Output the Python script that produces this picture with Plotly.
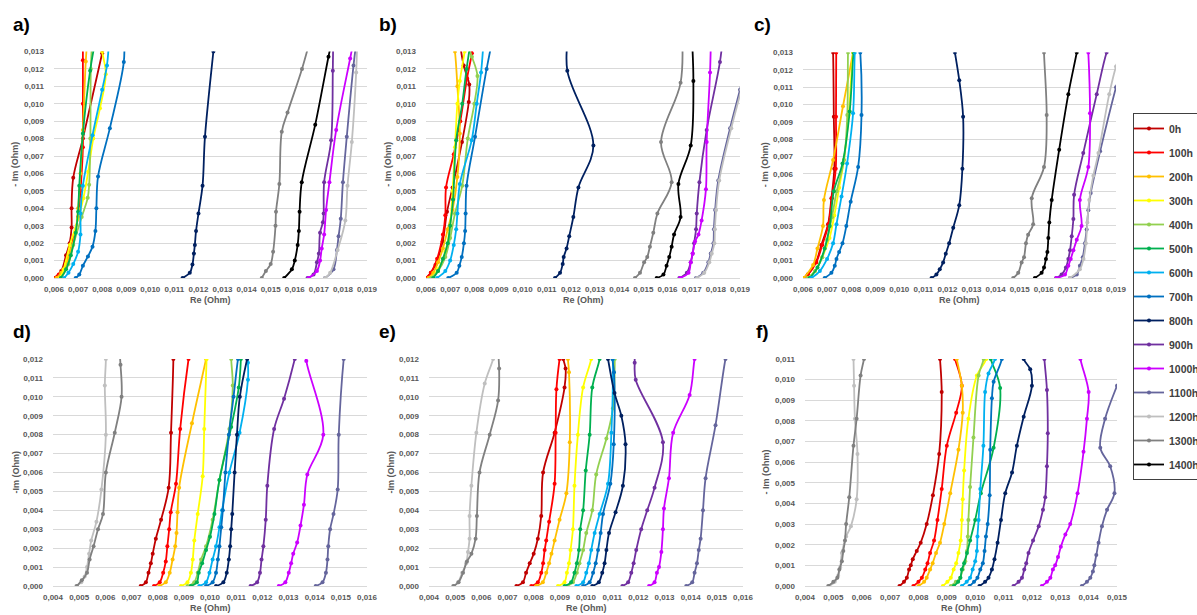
import plotly.graph_objects as go

# ---------------------------------------------------------------- series ---
LABELS = ["0h", "100h", "200h", "300h", "400h", "500h", "600h", "700h",
          "800h", "900h", "1000h", "1100h", "1200h", "1300h", "1400h"]
COLORS = ["#C00000", "#FF0000", "#FFC000", "#FFFF00", "#92D050", "#00B050",
          "#00B0F0", "#0070C0", "#002060", "#7030A0", "#CC00FF", "#65659C",
          "#BFBFBF", "#808080", "#000000"]

# panel a) -- Re (Ohm) and -Im (Ohm) for each ageing time
a_re = {
    "0h": [0.0060, 0.0063, 0.0065, 0.00665, 0.00673, 0.00673, 0.0068, 0.0072, 0.0080, 0.0082],
    "100h": [0.0060, 0.0062, 0.0064, 0.0066, 0.0068, 0.0070, 0.0071, 0.0072, 0.0072, 0.0072, 0.0072],
    "200h": [0.0061, 0.0063, 0.0065, 0.0067, 0.0069, 0.0070, 0.0071, 0.0072, 0.00732, 0.0074],
    "300h": [0.00625, 0.0064, 0.00666, 0.0070, 0.00722, 0.00742, 0.00763, 0.00791, 0.00815, 0.0080, 0.0079],
    "400h": [0.0063, 0.0066, 0.0068, 0.00715, 0.0074, 0.00746, 0.00751, 0.00753, 0.0076],
    "500h": [0.00628, 0.0065, 0.0067, 0.0069, 0.0070, 0.00705, 0.0072, 0.0075, 0.0077],
    "600h": [0.00642, 0.0066, 0.0068, 0.0070, 0.0071, 0.0071, 0.0072, 0.0076, 0.0080, 0.0082, 0.0083],
    "700h": [0.0069, 0.00705, 0.0072, 0.00741, 0.0076, 0.00772, 0.00776, 0.00783, 0.00832, 0.0089, 0.0089],
    "800h": [0.01134, 0.01164, 0.01175, 0.01181, 0.01185, 0.0119, 0.0120, 0.01217, 0.01227, 0.01262, 0.0127],
    "900h": [0.01653, 0.01678, 0.01692, 0.0170, 0.01705, 0.01717, 0.0172, 0.01722, 0.01751, 0.01758, 0.0176],
    "1000h": [0.01657, 0.01692, 0.01705, 0.01712, 0.01722, 0.0173, 0.01744, 0.01772, 0.0183, 0.0185],
    "1100h": [0.01726, 0.01761, 0.01775, 0.01782, 0.01791, 0.0180, 0.01816, 0.01844, 0.0186],
    "1200h": [0.01726, 0.01747, 0.01778, 0.0181, 0.01819, 0.01837, 0.01855, 0.0186],
    "1300h": [0.01463, 0.0148, 0.0150, 0.0151, 0.0152, 0.01522, 0.01536, 0.01546, 0.0157, 0.0163, 0.0167],
    "1400h": [0.01556, 0.01588, 0.0160, 0.01612, 0.01617, 0.0162, 0.01629, 0.01685, 0.0174, 0.0176],
}
a_im = {
    "0h": [0.0, 0.0004, 0.0013, 0.0020, 0.0029, 0.0040, 0.00576, 0.0080, 0.0129, 0.0140],
    "100h": [0.0, 0.0002, 0.0005, 0.0012, 0.0022, 0.0035, 0.0050, 0.0075, 0.0100, 0.0125, 0.0140],
    "200h": [0.0, 0.0003, 0.0008, 0.0016, 0.0027, 0.0040, 0.0060, 0.0085, 0.01243, 0.0140],
    "300h": [0.0, 0.0005, 0.0019, 0.0034, 0.00458, 0.0061, 0.0080, 0.00975, 0.0117, 0.0130, 0.0140],
    "400h": [0.0, 0.0008, 0.0019, 0.0035, 0.0046, 0.00535, 0.0080, 0.0120, 0.0140],
    "500h": [0.0, 0.0005, 0.0013, 0.0026, 0.0038, 0.0053, 0.0083, 0.0119, 0.0135],
    "600h": [0.0, 0.0003, 0.0008, 0.0015, 0.0025, 0.0037, 0.0053, 0.0082, 0.0108, 0.0122, 0.0140],
    "700h": [0.0, 0.0002, 0.0007, 0.00124, 0.0018, 0.0027, 0.0040, 0.00583, 0.0086, 0.0124, 0.0140],
    "800h": [0.0, 0.0003, 0.00077, 0.0014, 0.0019, 0.0027, 0.0037, 0.0053, 0.0081, 0.0130, 0.0140],
    "900h": [0.0, 0.0002, 0.0009, 0.0014, 0.0026, 0.0032, 0.0037, 0.0055, 0.0079, 0.0119, 0.0140],
    "1000h": [0.0, 0.0004, 0.0010, 0.0017, 0.0025, 0.0039, 0.0055, 0.0085, 0.0126, 0.0140],
    "1100h": [0.0, 0.0005, 0.0016, 0.0024, 0.0034, 0.0055, 0.0081, 0.0122, 0.0140],
    "1200h": [0.0, 0.0003, 0.0016, 0.0033, 0.0053, 0.0078, 0.0118, 0.0140],
    "1300h": [0.0, 0.0004, 0.0008, 0.0015, 0.0030, 0.0038, 0.0054, 0.0084, 0.0095, 0.0120, 0.0140],
    "1400h": [0.0, 0.0005, 0.0010, 0.0019, 0.0027, 0.0038, 0.0055, 0.0088, 0.0127, 0.0140],
}

# panel b)
b_re = {
    "0h": [0.0060, 0.0062, 0.00639, 0.00669, 0.00687, 0.0071, 0.00749, 0.00777, 0.00779, 0.00756, 0.0074],
    "100h": [0.0060, 0.0062, 0.00646, 0.0067, 0.0068, 0.00683, 0.00715, 0.00742, 0.0077, 0.0079, 0.0080],
    "200h": [0.0061, 0.0063, 0.0065, 0.0067, 0.0069, 0.0071, 0.0073, 0.0074, 0.0073, 0.0072, 0.0071],
    "300h": [0.0062, 0.0065, 0.0068, 0.0070, 0.0071, 0.0072, 0.0073, 0.0074, 0.0076, 0.0077],
    "400h": [0.0062, 0.0065, 0.0068, 0.0070, 0.0072, 0.0075, 0.00773, 0.0080, 0.00813, 0.0079, 0.0077],
    "500h": [0.0063, 0.0065, 0.0067, 0.0069, 0.0070, 0.00712, 0.00725, 0.0075, 0.00768, 0.0079],
    "600h": [0.00646, 0.0068, 0.0070, 0.00715, 0.00725, 0.0073, 0.0074, 0.00789, 0.0081, 0.00828, 0.0084],
    "700h": [0.00692, 0.00727, 0.00738, 0.00748, 0.00757, 0.00762, 0.00764, 0.00768, 0.00803, 0.00851, 0.0088],
    "800h": [0.01134, 0.01155, 0.01166, 0.0117, 0.01182, 0.01193, 0.0121, 0.01231, 0.01293, 0.01185, 0.0119],
    "900h": [0.01649, 0.0168, 0.01696, 0.01704, 0.0171, 0.01718, 0.01721, 0.01732, 0.01762, 0.01817, 0.0183],
    "1000h": [0.01652, 0.01687, 0.01696, 0.01704, 0.01714, 0.01728, 0.01741, 0.01759, 0.01762, 0.01776, 0.0178],
    "1100h": [0.01718, 0.01748, 0.01769, 0.01779, 0.0179, 0.01792, 0.01797, 0.0181, 0.01859, 0.0190, 0.0193],
    "1200h": [0.01722, 0.01752, 0.01773, 0.01783, 0.01794, 0.01796, 0.01801, 0.01814, 0.01864, 0.01905, 0.0193],
    "1300h": [0.01465, 0.01486, 0.01503, 0.01516, 0.01527, 0.01541, 0.01558, 0.01617, 0.01573, 0.01654, 0.0166],
    "1400h": [0.01555, 0.01583, 0.01596, 0.01607, 0.01617, 0.01627, 0.01654, 0.01645, 0.01696, 0.01707, 0.0170],
}
b_im = {
    "0h": [0.0, 0.0003, 0.00075, 0.0021, 0.0038, 0.0052, 0.0078, 0.0101, 0.0111, 0.0122, 0.0135],
    "100h": [0.0, 0.0003, 0.0011, 0.0025, 0.0036, 0.0052, 0.0071, 0.0090, 0.01147, 0.0129, 0.0140],
    "200h": [0.0, 0.0003, 0.0009, 0.0017, 0.0028, 0.0039, 0.0058, 0.0083, 0.0110, 0.0130, 0.0140],
    "300h": [0.0, 0.0005, 0.0015, 0.0030, 0.0050, 0.0075, 0.0100, 0.0113, 0.0130, 0.0140],
    "400h": [0.0, 0.0004, 0.0012, 0.0023, 0.0037, 0.0053, 0.0080, 0.0100, 0.0116, 0.0127, 0.0135],
    "500h": [0.0, 0.0004, 0.0011, 0.0020, 0.0030, 0.0045, 0.0079, 0.0100, 0.0120, 0.0140],
    "600h": [0.0, 0.0004, 0.0010, 0.0019, 0.0028, 0.0037, 0.0054, 0.0079, 0.0100, 0.0118, 0.0140],
    "700h": [0.0, 0.0003, 0.0007, 0.0012, 0.0020, 0.0027, 0.0037, 0.0053, 0.0081, 0.0120, 0.0140],
    "800h": [0.0, 0.0003, 0.0008, 0.0012, 0.0017, 0.0024, 0.0035, 0.0052, 0.0076, 0.0119, 0.0140],
    "900h": [0.0, 0.0003, 0.0009, 0.0014, 0.0020, 0.0028, 0.0037, 0.0055, 0.0085, 0.0124, 0.0140],
    "1000h": [0.0, 0.0003, 0.0009, 0.0014, 0.0021, 0.0025, 0.0033, 0.0051, 0.0078, 0.0118, 0.0140],
    "1100h": [0.0, 0.0003, 0.0009, 0.0014, 0.0020, 0.0028, 0.0039, 0.0056, 0.0086, 0.0108, 0.0125],
    "1200h": [0.0, 0.0003, 0.0009, 0.0014, 0.0020, 0.0028, 0.0039, 0.0056, 0.0086, 0.0108, 0.0123],
    "1300h": [0.0, 0.0003, 0.0009, 0.0012, 0.0018, 0.0026, 0.0037, 0.0055, 0.0078, 0.0112, 0.0140],
    "1400h": [0.0, 0.0002, 0.0007, 0.0012, 0.0018, 0.0025, 0.0035, 0.0054, 0.0076, 0.0113, 0.0140],
}

# panel c)
c_re = {
    "0h": [0.0060, 0.0062, 0.00655, 0.00676, 0.00704, 0.00718, 0.0073, 0.00728, 0.00725, 0.00722],
    "100h": [0.0060, 0.0062, 0.00655, 0.0068, 0.00706, 0.0072, 0.00736, 0.00737, 0.00738, 0.00738],
    "200h": [0.00603, 0.00642, 0.0066, 0.00683, 0.00687, 0.00725, 0.00766, 0.00808, 0.0082],
    "300h": [0.0062, 0.0065, 0.0068, 0.0071, 0.0073, 0.0075, 0.0077, 0.0079, 0.00808, 0.0082],
    "400h": [0.0062, 0.0065, 0.0068, 0.0070, 0.0072, 0.0074, 0.0077, 0.00784, 0.00787, 0.0079],
    "500h": [0.00628, 0.0066, 0.0069, 0.00711, 0.00728, 0.00764, 0.00794, 0.0081, 0.0082],
    "600h": [0.00635, 0.0067, 0.0070, 0.00725, 0.00739, 0.0076, 0.00783, 0.00808, 0.00815, 0.0082],
    "700h": [0.0069, 0.00718, 0.00732, 0.00739, 0.0075, 0.00764, 0.0078, 0.00798, 0.00829, 0.00843, 0.00838, 0.0083],
    "800h": [0.01134, 0.01154, 0.01168, 0.01182, 0.01193, 0.01207, 0.01224, 0.01249, 0.01262, 0.01265, 0.01249, 0.01231, 0.0122],
    "900h": [0.01651, 0.01674, 0.01692, 0.01702, 0.01709, 0.01716, 0.01723, 0.01726, 0.01764, 0.0182, 0.01861, 0.0189],
    "1000h": [0.01653, 0.01688, 0.01702, 0.01712, 0.01723, 0.01737, 0.01757, 0.0175, 0.01785, 0.01792, 0.01785, 0.0178],
    "1100h": [0.01709, 0.01737, 0.0175, 0.01762, 0.01771, 0.01778, 0.01785, 0.01795, 0.01834, 0.0190, 0.0193],
    "1200h": [0.01709, 0.0175, 0.01765, 0.01775, 0.01781, 0.01789, 0.01806, 0.01827, 0.01872, 0.0190, 0.0192],
    "1300h": [0.01473, 0.01494, 0.01508, 0.01518, 0.01526, 0.01535, 0.01556, 0.0155, 0.01601, 0.01612, 0.01601, 0.0160],
    "1400h": [0.01563, 0.01591, 0.01601, 0.01609, 0.01615, 0.01619, 0.01623, 0.01633, 0.01664, 0.01702, 0.01737, 0.0175],
}
c_im = {
    "0h": [0.0, 0.0002, 0.00094, 0.0019, 0.0031, 0.0046, 0.0063, 0.0093, 0.0130, 0.0140],
    "100h": [0.0, 0.0002, 0.0009, 0.0019, 0.0031, 0.0046, 0.0063, 0.0093, 0.0130, 0.0140],
    "200h": [0.0, 0.00075, 0.0017, 0.0030, 0.0045, 0.0068, 0.0099, 0.0130, 0.0140],
    "300h": [0.0, 0.0004, 0.0012, 0.0023, 0.0036, 0.0052, 0.0068, 0.0094, 0.0130, 0.0140],
    "400h": [0.0, 0.0004, 0.0012, 0.0022, 0.0035, 0.0050, 0.0068, 0.0094, 0.0130, 0.0140],
    "500h": [0.0, 0.0006, 0.0017, 0.0030, 0.0050, 0.0066, 0.0096, 0.0130, 0.0140],
    "600h": [0.0, 0.0004, 0.0011, 0.0020, 0.0031, 0.0047, 0.0066, 0.0095, 0.0130, 0.0140],
    "700h": [0.0, 0.0003, 0.0007, 0.0011, 0.0015, 0.0020, 0.0030, 0.0044, 0.0064, 0.0094, 0.0130, 0.0140],
    "800h": [0.0, 0.0002, 0.0005, 0.0009, 0.0014, 0.0020, 0.0029, 0.0042, 0.0063, 0.0093, 0.0114, 0.0130, 0.0140],
    "900h": [0.0, 0.0002, 0.0006, 0.0011, 0.0016, 0.0024, 0.0034, 0.0048, 0.0072, 0.0106, 0.0130, 0.0140],
    "1000h": [0.0, 0.0002, 0.0007, 0.0011, 0.0016, 0.0022, 0.0030, 0.0045, 0.0064, 0.0095, 0.0130, 0.0140],
    "1100h": [0.0, 0.0002, 0.0007, 0.0012, 0.0020, 0.0028, 0.0039, 0.0049, 0.0073, 0.0110, 0.0125],
    "1200h": [0.0, 0.0005, 0.0011, 0.0020, 0.0032, 0.0045, 0.0059, 0.0072, 0.0106, 0.0122, 0.0130],
    "1300h": [0.0, 0.0003, 0.0009, 0.0012, 0.0020, 0.0025, 0.0031, 0.0046, 0.0064, 0.0094, 0.0130, 0.0140],
    "1400h": [0.0, 0.0003, 0.0006, 0.0011, 0.0015, 0.0023, 0.0032, 0.0045, 0.0074, 0.0106, 0.0130, 0.0140],
}

# panel d)
d_re = {
    "0h": [0.00735, 0.00755, 0.00765, 0.00774, 0.00781, 0.00793, 0.00813, 0.00842, 0.00851, 0.0086, 0.0086],
    "100h": [0.00786, 0.00808, 0.00821, 0.00831, 0.00837, 0.00844, 0.0085, 0.0087, 0.00886, 0.00918, 0.0093],
    "200h": [0.00806, 0.00831, 0.00846, 0.00857, 0.00867, 0.00872, 0.00876, 0.00882, 0.00931, 0.00985, 0.0100],
    "300h": [0.00889, 0.00914, 0.00927, 0.00934, 0.0094, 0.00953, 0.00972, 0.00978, 0.00987, 0.0099],
    "400h": [0.00914, 0.0094, 0.00953, 0.00966, 0.00985, 0.0101, 0.01036, 0.01074, 0.01087, 0.01081, 0.0108],
    "500h": [0.00927, 0.0095, 0.00957, 0.0097, 0.00985, 0.0100, 0.01017, 0.01036, 0.01081, 0.0111, 0.01118, 0.0112],
    "600h": [0.00959, 0.00985, 0.00998, 0.0101, 0.01023, 0.01036, 0.01046, 0.01074, 0.01113, 0.01145, 0.01145, 0.0114],
    "700h": [0.00985, 0.0101, 0.01023, 0.0103, 0.01036, 0.01043, 0.01049, 0.01059, 0.01072, 0.0109, 0.01107, 0.0112],
    "800h": [0.01023, 0.01051, 0.01064, 0.01072, 0.01077, 0.01081, 0.01085, 0.01094, 0.01103, 0.01114, 0.01142, 0.0116],
    "900h": [0.01155, 0.0118, 0.01191, 0.01197, 0.01204, 0.01213, 0.01219, 0.01245, 0.01283, 0.01324, 0.0134],
    "1000h": [0.01263, 0.01288, 0.01301, 0.0131, 0.01318, 0.01333, 0.01346, 0.01359, 0.01372, 0.01433, 0.01368, 0.0136],
    "1100h": [0.01404, 0.0143, 0.01443, 0.01449, 0.01452, 0.01459, 0.01472, 0.01488, 0.01492, 0.01511, 0.0152],
    "1200h": [0.00489, 0.00508, 0.00521, 0.0053, 0.00538, 0.00546, 0.00566, 0.00585, 0.00602, 0.00598, 0.00602, 0.0060],
    "1300h": [0.00491, 0.0051, 0.0053, 0.0054, 0.00555, 0.00572, 0.00591, 0.00602, 0.00636, 0.00662, 0.00658, 0.0065],
}
d_im = {
    "0h": [0.0, 0.0002, 0.0007, 0.0012, 0.0017, 0.0025, 0.0035, 0.0052, 0.0081, 0.0120, 0.0130],
    "100h": [0.0, 0.0002, 0.0007, 0.0013, 0.0021, 0.0030, 0.0039, 0.0054, 0.0083, 0.0120, 0.0130],
    "200h": [0.0, 0.0002, 0.0007, 0.0014, 0.0021, 0.0028, 0.0039, 0.0052, 0.0086, 0.0120, 0.0130],
    "300h": [0.0, 0.0002, 0.0007, 0.0014, 0.0024, 0.0038, 0.0058, 0.0083, 0.0120, 0.0130],
    "400h": [0.0, 0.0002, 0.0007, 0.0014, 0.0021, 0.0035, 0.0056, 0.0083, 0.0106, 0.0120, 0.0130],
    "500h": [0.0, 0.0002, 0.0007, 0.0012, 0.0019, 0.0026, 0.0038, 0.0056, 0.0084, 0.0105, 0.0120, 0.0130],
    "600h": [0.0, 0.0002, 0.0007, 0.0014, 0.0021, 0.0031, 0.0040, 0.0060, 0.0081, 0.0109, 0.0118, 0.0130],
    "700h": [0.0, 0.0002, 0.0007, 0.0014, 0.0021, 0.0031, 0.0040, 0.0060, 0.0080, 0.0100, 0.0120, 0.0130],
    "800h": [0.0, 0.0002, 0.0007, 0.0014, 0.0021, 0.0030, 0.0038, 0.0060, 0.0080, 0.0100, 0.0120, 0.0130],
    "900h": [0.0, 0.0002, 0.0007, 0.0014, 0.0021, 0.0035, 0.0053, 0.0083, 0.0099, 0.0120, 0.0130],
    "1000h": [0.0, 0.0002, 0.0007, 0.0012, 0.0017, 0.0023, 0.0032, 0.0043, 0.0059, 0.0080, 0.0119, 0.0130],
    "1100h": [0.0, 0.0002, 0.0007, 0.0014, 0.0021, 0.0030, 0.0038, 0.0051, 0.0080, 0.0120, 0.0130],
    "1200h": [0.0, 0.0002, 0.0005, 0.0010, 0.0017, 0.0024, 0.0034, 0.0051, 0.0080, 0.0106, 0.0120, 0.0130],
    "1300h": [0.0, 0.0003, 0.0007, 0.0014, 0.0021, 0.0030, 0.0038, 0.0060, 0.0081, 0.0100, 0.0117, 0.0130],
}

# panel e)
e_re = {
    "0h": [0.00734, 0.00759, 0.00771, 0.00785, 0.0080, 0.00816, 0.00829, 0.00836, 0.0088, 0.00918, 0.00922, 0.00913, 0.0090],
    "100h": [0.00791, 0.00816, 0.00829, 0.00836, 0.00842, 0.00848, 0.00859, 0.0088, 0.00884, 0.00887, 0.00899, 0.0091],
    "200h": [0.0081, 0.00835, 0.00848, 0.00859, 0.00868, 0.0088, 0.00899, 0.00925, 0.00938, 0.00935, 0.00931, 0.0093],
    "300h": [0.00893, 0.00918, 0.00927, 0.00935, 0.00941, 0.0095, 0.00956, 0.00969, 0.00989, 0.0102, 0.0103],
    "400h": [0.00928, 0.0095, 0.00965, 0.00975, 0.00989, 0.01001, 0.01024, 0.01039, 0.01078, 0.01103, 0.0111, 0.0111],
    "500h": [0.00918, 0.00943, 0.00956, 0.00965, 0.00973, 0.00978, 0.00989, 0.00999, 0.01014, 0.01024, 0.01052, 0.0106],
    "600h": [0.00963, 0.00989, 0.01001, 0.01011, 0.0102, 0.01033, 0.01052, 0.01084, 0.01097, 0.01103, 0.0110],
    "700h": [0.00989, 0.01014, 0.01027, 0.01037, 0.01046, 0.01056, 0.01065, 0.01093, 0.01106, 0.01107, 0.01101, 0.0110],
    "800h": [0.01024, 0.01049, 0.01062, 0.01071, 0.01078, 0.01088, 0.01113, 0.01141, 0.01151, 0.01135, 0.01109, 0.01084, 0.0107],
    "900h": [0.01139, 0.01161, 0.01173, 0.01182, 0.01192, 0.01211, 0.01234, 0.01262, 0.01294, 0.0119, 0.01186, 0.0119],
    "1000h": [0.01241, 0.01262, 0.01271, 0.01279, 0.01288, 0.01294, 0.01298, 0.01317, 0.01333, 0.01396, 0.01415, 0.0143],
    "1100h": [0.01383, 0.01406, 0.01415, 0.01424, 0.01431, 0.01438, 0.01447, 0.01457, 0.01495, 0.01533, 0.0155],
    "1200h": [0.00492, 0.00511, 0.00527, 0.00542, 0.00549, 0.00555, 0.00555, 0.00562, 0.00581, 0.00613, 0.00645, 0.0066],
    "1300h": [0.00494, 0.00513, 0.0053, 0.00545, 0.00562, 0.00578, 0.00583, 0.00593, 0.00632, 0.00664, 0.00668, 0.0066],
}
e_im = {
    "0h": [0.0, 0.0002, 0.0007, 0.0012, 0.0017, 0.0025, 0.0037, 0.0060, 0.0081, 0.0105, 0.0115, 0.0120, 0.0130],
    "100h": [0.0, 0.0002, 0.0007, 0.0012, 0.0019, 0.0024, 0.0034, 0.0054, 0.0081, 0.0104, 0.0120, 0.0130],
    "200h": [0.0, 0.0002, 0.0007, 0.0012, 0.0017, 0.0024, 0.0035, 0.0049, 0.0076, 0.0113, 0.0120, 0.0130],
    "300h": [0.0, 0.0002, 0.0007, 0.0012, 0.0019, 0.0030, 0.0053, 0.0080, 0.0105, 0.0120, 0.0130],
    "400h": [0.0, 0.0002, 0.0007, 0.0012, 0.0019, 0.0028, 0.0040, 0.0059, 0.0078, 0.0094, 0.0120, 0.0130],
    "500h": [0.0, 0.0002, 0.0007, 0.0012, 0.0019, 0.0030, 0.0040, 0.0061, 0.0080, 0.0105, 0.0120, 0.0130],
    "600h": [0.0, 0.0002, 0.0007, 0.0012, 0.0019, 0.0028, 0.0038, 0.0054, 0.0081, 0.0120, 0.0130],
    "700h": [0.0, 0.0002, 0.0007, 0.0012, 0.0019, 0.0028, 0.0038, 0.0054, 0.0075, 0.0113, 0.0120, 0.0130],
    "800h": [0.0, 0.0002, 0.0007, 0.0012, 0.0019, 0.0028, 0.0039, 0.0053, 0.0075, 0.0090, 0.0102, 0.0120, 0.0130],
    "900h": [0.0, 0.0002, 0.0007, 0.0012, 0.0019, 0.0030, 0.0040, 0.0052, 0.0076, 0.0109, 0.0118, 0.0130],
    "1000h": [0.0, 0.0002, 0.0007, 0.0010, 0.0018, 0.0030, 0.0041, 0.0057, 0.0081, 0.0101, 0.0120, 0.0130],
    "1100h": [0.0, 0.0002, 0.0007, 0.0012, 0.0019, 0.0025, 0.0040, 0.0057, 0.0085, 0.0120, 0.0130],
    "1200h": [0.0, 0.0002, 0.0007, 0.0012, 0.0018, 0.0025, 0.0037, 0.0053, 0.0081, 0.0107, 0.0120, 0.0130],
    "1300h": [0.0, 0.0002, 0.0007, 0.0013, 0.0017, 0.0025, 0.0037, 0.0060, 0.0080, 0.0098, 0.0115, 0.0130],
}

# panel f)
f_re = {
    "0h": [0.00733, 0.00749, 0.00759, 0.00767, 0.00773, 0.0078, 0.00794, 0.00808, 0.00829, 0.00851, 0.00873, 0.00882, 0.00876, 0.0087],
    "100h": [0.00782, 0.0080, 0.00812, 0.00824, 0.00832, 0.00841, 0.00855, 0.00867, 0.00882, 0.0090, 0.00933, 0.00953, 0.00929, 0.0091],
    "200h": [0.0080, 0.0082, 0.00829, 0.00841, 0.0085, 0.00862, 0.00876, 0.00891, 0.00912, 0.00941, 0.00956, 0.00953, 0.00935, 0.0092],
    "300h": [0.00886, 0.00902, 0.00914, 0.00924, 0.00933, 0.00941, 0.00949, 0.00953, 0.00956, 0.00961, 0.00976, 0.01006, 0.01039, 0.0105],
    "400h": [0.00914, 0.00932, 0.00947, 0.00956, 0.00965, 0.00971, 0.00974, 0.00976, 0.00982, 0.00994, 0.01012, 0.0103, 0.0104],
    "500h": [0.00925, 0.0094, 0.00948, 0.00953, 0.00961, 0.00971, 0.00982, 0.0100, 0.0102, 0.01065, 0.01088, 0.01055, 0.0104],
    "600h": [0.00953, 0.0097, 0.00982, 0.00991, 0.0100, 0.01006, 0.01008, 0.01012, 0.01018, 0.01029, 0.01035, 0.01047, 0.0107, 0.0108],
    "700h": [0.0098, 0.00996, 0.01008, 0.01018, 0.01027, 0.01033, 0.01038, 0.01044, 0.01051, 0.01053, 0.01059, 0.01065, 0.01094, 0.0110],
    "800h": [0.01015, 0.01035, 0.01047, 0.01059, 0.01068, 0.01079, 0.01091, 0.01106, 0.0113, 0.01147, 0.01171, 0.0120, 0.01194, 0.01171, 0.0116],
    "900h": [0.01135, 0.01153, 0.01165, 0.01173, 0.0118, 0.01188, 0.01204, 0.01224, 0.01239, 0.01247, 0.01253, 0.01256, 0.01253, 0.01244, 0.0124],
    "1000h": [0.01235, 0.01253, 0.01265, 0.01274, 0.01282, 0.01292, 0.01302, 0.01318, 0.01335, 0.01361, 0.01382, 0.01394, 0.0140, 0.01371, 0.0136],
    "1100h": [0.01376, 0.01394, 0.01406, 0.01415, 0.0142, 0.01427, 0.01435, 0.01447, 0.01465, 0.01491, 0.01476, 0.01441, 0.01458, 0.0150, 0.01524],
    "1200h": [0.00485, 0.00505, 0.00517, 0.00524, 0.0053, 0.00545, 0.00562, 0.00582, 0.00585, 0.00576, 0.00573, 0.00571, 0.0057],
    "1300h": [0.00482, 0.0050, 0.00514, 0.00521, 0.0053, 0.00535, 0.00541, 0.00545, 0.00556, 0.00571, 0.00582, 0.00596, 0.00608, 0.0062],
}
f_im = {
    "0h": [0.0, 0.0002, 0.0004, 0.0008, 0.0010, 0.0013, 0.0017, 0.0021, 0.0030, 0.0044, 0.0064, 0.0094, 0.0110, 0.0120],
    "100h": [0.0, 0.0002, 0.0004, 0.0008, 0.0011, 0.0016, 0.0022, 0.0032, 0.0047, 0.0068, 0.0084, 0.0097, 0.0110, 0.0120],
    "200h": [0.0, 0.0002, 0.0004, 0.0008, 0.0011, 0.0016, 0.0021, 0.0030, 0.0045, 0.0066, 0.0084, 0.0097, 0.0110, 0.0120],
    "300h": [0.0, 0.0002, 0.0004, 0.0008, 0.0011, 0.0016, 0.0022, 0.0032, 0.0042, 0.0056, 0.0081, 0.0102, 0.0110, 0.0120],
    "400h": [0.0, 0.0002, 0.0004, 0.0008, 0.0012, 0.0017, 0.0024, 0.0032, 0.0048, 0.0072, 0.0102, 0.0110, 0.0120],
    "500h": [0.0, 0.0002, 0.0004, 0.0008, 0.0011, 0.0016, 0.0022, 0.0032, 0.0045, 0.0067, 0.0096, 0.0110, 0.0120],
    "600h": [0.0, 0.0002, 0.0004, 0.0008, 0.0012, 0.0017, 0.0024, 0.0032, 0.0047, 0.0068, 0.0094, 0.0103, 0.0110, 0.0120],
    "700h": [0.0, 0.0002, 0.0004, 0.0008, 0.0011, 0.0017, 0.0024, 0.0030, 0.0044, 0.0066, 0.0091, 0.0099, 0.0110, 0.0120],
    "800h": [0.0, 0.0002, 0.0004, 0.0008, 0.0013, 0.0021, 0.0032, 0.0045, 0.0055, 0.0068, 0.0082, 0.0097, 0.0105, 0.0110, 0.0120],
    "900h": [0.0, 0.0002, 0.0004, 0.0008, 0.0011, 0.0016, 0.0022, 0.0029, 0.0037, 0.0043, 0.0058, 0.0074, 0.0095, 0.0110, 0.0120],
    "1000h": [0.0, 0.0002, 0.0004, 0.0008, 0.0010, 0.0014, 0.0019, 0.0025, 0.0030, 0.0045, 0.0065, 0.0081, 0.0094, 0.0110, 0.0120],
    "1100h": [0.0, 0.0002, 0.0004, 0.0007, 0.0010, 0.0015, 0.0021, 0.0029, 0.0037, 0.0045, 0.0058, 0.0067, 0.0081, 0.0097, 0.0105],
    "1200h": [0.0, 0.0002, 0.0005, 0.0009, 0.0016, 0.0024, 0.0029, 0.0042, 0.0064, 0.0081, 0.0097, 0.0110, 0.0120],
    "1300h": [0.0, 0.0002, 0.0004, 0.0008, 0.0012, 0.0017, 0.0022, 0.0030, 0.0043, 0.0068, 0.0081, 0.0102, 0.0110, 0.0120],
}

# ---------------------------------------------------------------- layout ---
W, H = 1197, 615
TICK_GRAY = "#595959"
GRID = "#D9D9D9"
FONT = "Liberation Sans"


def fx(p):
    return p / W


def fy(p):
    return 1 - p / H


# pixel boxes of the six plot areas: (left, right, top, bottom)
PANELS = [
    dict(tag="a)", re=a_re, im=a_im, box=(54, 367, 51.5, 278), xr=(0.006, 0.019), yr=(0, 0.013),
         ytitle="- Im (Ohm)", letter=(11, 24), ytitle_x=15),
    dict(tag="b)", re=b_re, im=b_im, box=(426, 740, 51.5, 278), xr=(0.006, 0.019), yr=(0, 0.013),
         ytitle="- Im (Ohm)", letter=(377, 24), ytitle_x=388),
    dict(tag="c)", re=c_re, im=c_im, box=(803, 1116, 52.5, 278), xr=(0.006, 0.019), yr=(0, 0.013),
         ytitle="- Im (Ohm)", letter=(752, 24), ytitle_x=765),
    dict(tag="d)", re=d_re, im=d_im, box=(53, 367, 359, 586), xr=(0.004, 0.016), yr=(0, 0.012),
         ytitle="-Im (Ohm)", letter=(11, 331), ytitle_x=15),
    dict(tag="e)", re=e_re, im=e_im, box=(429, 743, 359, 586), xr=(0.004, 0.016), yr=(0, 0.012),
         ytitle="-Im (Ohm)", letter=(377, 331), ytitle_x=390),
    dict(tag="f)", re=f_re, im=f_im, box=(805, 1117, 359, 586), xr=(0.004, 0.015), yr=(0, 0.011),
         ytitle="- Im (Ohm)", letter=(754, 331), ytitle_x=765),
]

fig = go.Figure()
annotations = []
layout_axes = {}

for i, p in enumerate(PANELS):
    n = "" if i == 0 else str(i + 1)
    xref, yref = "x" + n, "y" + n
    left, right, top, bottom = p["box"]

    for label, color in zip(LABELS, COLORS):
        if label not in p["re"]:
            continue
        fig.add_trace(go.Scatter(
            x=p["re"][label], y=p["im"][label],
            mode="lines+markers", name=label,
            line=dict(color=color, width=1.8, shape="spline", smoothing=1.0),
            marker=dict(color=color, size=4, symbol="circle"),
            xaxis=xref, yaxis=yref,
            legendgroup=label, showlegend=(i == 0),
        ))

    layout_axes["xaxis" + n] = dict(
        domain=[fx(left), fx(right)], anchor=yref, range=list(p["xr"]),
        dtick=0.001, tick0=0, tickformat=".3f", showgrid=False, zeroline=False,
        showline=True, linecolor=GRID, linewidth=1, ticks="", ticklabelstandoff=3,
        tickfont=dict(family=FONT, size=8, color=TICK_GRAY, weight="bold"),
        fixedrange=True,
    )
    layout_axes["yaxis" + n] = dict(
        domain=[fy(bottom), fy(top)], anchor=xref, range=list(p["yr"]),
        dtick=0.001, tick0=0, tickformat=".3f", showgrid=True, gridcolor=GRID,
        gridwidth=1, zeroline=False, showline=False, ticks="", ticklabelstandoff=9,
        tickfont=dict(family=FONT, size=8, color=TICK_GRAY, weight="bold"),
        fixedrange=True,
    )

    # panel letter
    lx, ly = p["letter"]
    annotations.append(dict(
        text="<b>%s</b>" % p["tag"], x=fx(lx), y=fy(ly), xref="paper", yref="paper",
        xanchor="left", yanchor="middle", showarrow=False,
        font=dict(family=FONT, size=19, color="#000000"),
    ))
    # axis titles
    annotations.append(dict(
        text="<b>Re (Ohm)</b>", x=fx((left + right) / 2), y=fy(bottom + 22),
        xref="paper", yref="paper", xanchor="center", yanchor="middle",
        showarrow=False, font=dict(family=FONT, size=9, color=TICK_GRAY),
    ))
    annotations.append(dict(
        text="<b>%s</b>" % p["ytitle"], x=fx(p["ytitle_x"]), y=fy((top + bottom) / 2),
        xref="paper", yref="paper", xanchor="center", yanchor="middle", textangle=-90,
        showarrow=False, font=dict(family=FONT, size=9, color=TICK_GRAY),
    ))

fig.update_layout(
    width=W, height=H,
    margin=dict(l=0, r=0, t=0, b=0, autoexpand=False),
    paper_bgcolor="white", plot_bgcolor="white",
    separators=", ",
    annotations=annotations,
    legend=dict(
        x=fx(1133), y=fy(113), xanchor="left", yanchor="top",
        bordercolor="#404040", borderwidth=1, bgcolor="white",
        font=dict(family=FONT, size=10.5, color="#404040", weight="bold"),
        traceorder="grouped", tracegroupgap=5, itemwidth=30, indentation=-5,
    ),
    **layout_axes,
)

fig.write_html("out.html")
